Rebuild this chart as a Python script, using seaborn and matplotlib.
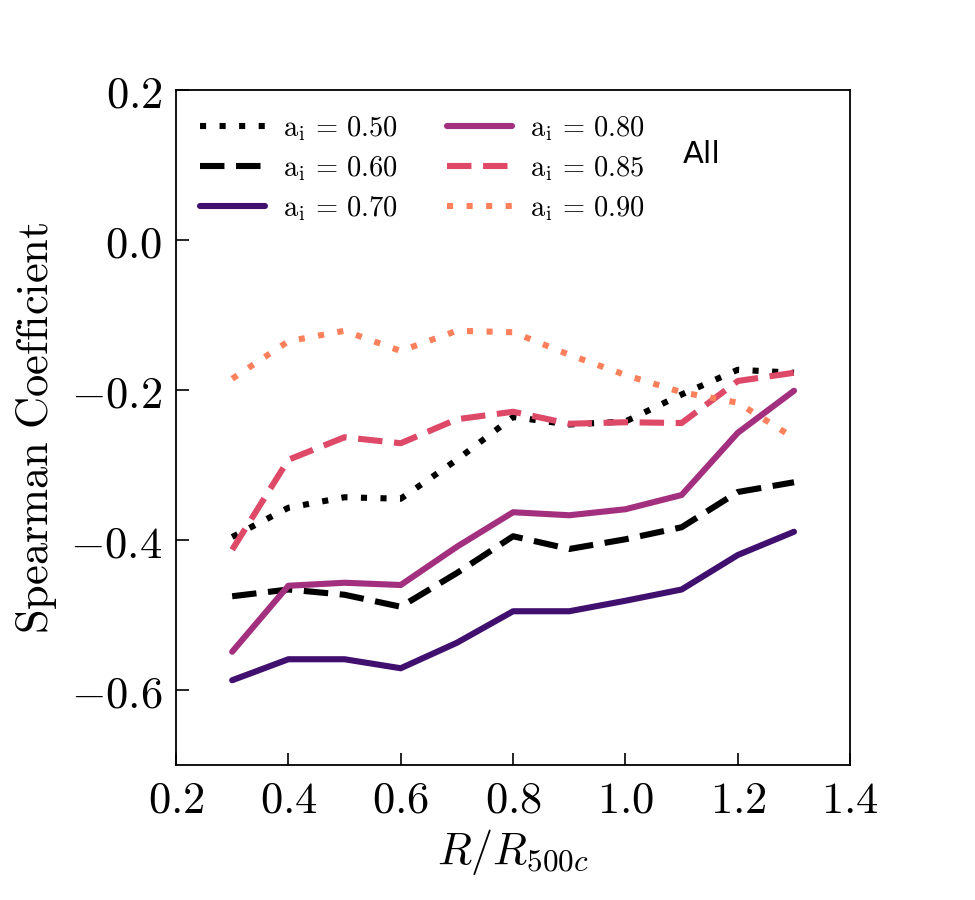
import numpy as np
import pandas as pd
import matplotlib
matplotlib.use('Agg')
import matplotlib.pyplot as plt
import seaborn as sns

# radius bins (R / R500c)
radius = [0.3, 0.4, 0.5, 0.6, 0.7, 0.8, 0.9, 1.0, 1.1, 1.2, 1.3]

# Spearman coefficient per formation epoch a_i
a_050 = [-0.396, -0.357, -0.343, -0.345, -0.293, -0.236, -0.246, -0.242, -0.206, -0.173, -0.177]
a_060 = [-0.475, -0.466, -0.473, -0.489, -0.444, -0.395, -0.412, -0.399, -0.383, -0.336, -0.323]
a_070 = [-0.587, -0.559, -0.559, -0.571, -0.537, -0.495, -0.495, -0.481, -0.466, -0.420, -0.389]
a_080 = [-0.549, -0.461, -0.457, -0.460, -0.409, -0.363, -0.367, -0.359, -0.340, -0.257, -0.201]
a_085 = [-0.413, -0.293, -0.263, -0.271, -0.239, -0.229, -0.245, -0.243, -0.244, -0.188, -0.177]
a_090 = [-0.185, -0.135, -0.121, -0.148, -0.121, -0.123, -0.153, -0.180, -0.203, -0.217, -0.264]

labels = ["0.50", "0.60", "0.70", "0.80", "0.85", "0.90"]
series = [a_050, a_060, a_070, a_080, a_085, a_090]
colors = ["black", "black", "#41106f", "#a3307e", "#de4968", "#fd805d"]
dotted = (0, (1.0, 2.2))
dashed = (0, (4.0, 1.9))
styles = [dotted, dashed, "-", "-", dashed, dotted]

sns.set_theme(style="white")
plt.rcParams['mathtext.fontset'] = 'cm'
plt.rcParams['font.family'] = ['DejaVu Sans']
plt.rcParams['text.color'] = 'black'
plt.rcParams['axes.labelcolor'] = 'black'
plt.rcParams['xtick.color'] = 'black'
plt.rcParams['ytick.color'] = 'black'

fig = plt.figure(figsize=(9.75, 9), dpi=100)
ax = fig.add_axes([0.1805, 0.15, 0.6915, 0.75])

for lab, vals, col, ls in zip(labels, series, colors, styles):
    df = pd.DataFrame({"R": radius, "rho": vals})
    sns.lineplot(data=df, x="R", y="rho", ax=ax, color=col, linestyle=ls,
                 linewidth=4.4, label=r"$\mathrm{a_i\,=\,%s}$" % lab)

ax.set_xlim(0.2, 1.4)
ax.set_ylim(-0.7, 0.2)
xt = [0.2, 0.4, 0.6, 0.8, 1.0, 1.2, 1.4]
yt = [-0.6, -0.4, -0.2, 0.0, 0.2]
ax.set_xticks(xt)
ax.set_yticks(yt)
ax.set_xticklabels([r"$%.1f$" % v for v in xt], fontsize=32)
ax.set_yticklabels([r"$%.1f$" % v for v in yt], fontsize=32)
ax.tick_params(direction="in", length=9, width=1.2, left=True, bottom=True, pad=10)
for s in ax.spines.values():
    s.set_color("black")
    s.set_linewidth(1.3)

ax.set_xlabel(r"$R/R_{500c}$", fontsize=32, labelpad=4)
ax.set_ylabel(r"$\mathrm{Spearman\ Coefficient}$", fontsize=32, labelpad=8)

ax.legend(loc="upper left", ncol=2, frameon=False, fontsize=20.5,
          handlelength=2.28, columnspacing=1.75, labelspacing=0.38,
          borderaxespad=0.45, handletextpad=0.62)
ax.text(0.752, 0.904, "All", transform=ax.transAxes, fontsize=22,
        ha="left", va="center", color="black")

fig.savefig("out.png", dpi=100)
